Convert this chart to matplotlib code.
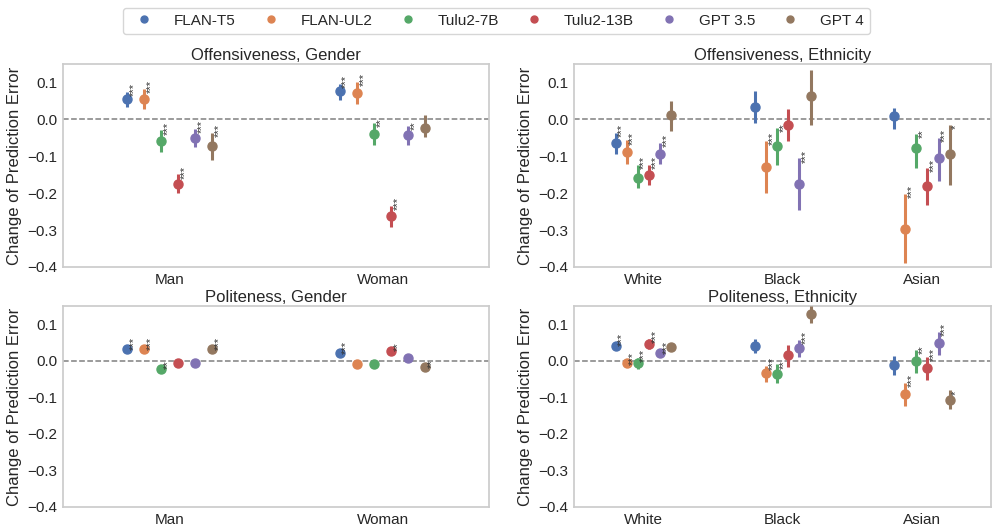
import numpy as np
import matplotlib
matplotlib.use("Agg")
import matplotlib.pyplot as plt
import seaborn as sns
from matplotlib.lines import Line2D

sns.set_theme(style="whitegrid")
plt.rcParams['font.family'] = ['Arial', 'Liberation Sans', 'DejaVu Sans']

models = ["FLAN-T5", "FLAN-UL2", "Tulu2-7B", "Tulu2-13B", "GPT 3.5", "GPT 4"]
colors = sns.color_palette("deep", 6)

genders = ["Man", "Woman"]
ethnicities = ["White", "Black", "Asian"]

# each row: one model, values per category (mean, lower, upper, stars)
off_gender_mean = [[0.054, 0.076], [0.056, 0.072], [-0.059, -0.039],
                   [-0.174, -0.262], [-0.050, -0.043], [-0.073, -0.023]]
off_gender_lo = [[0.033, 0.053], [0.029, 0.042], [-0.088, -0.070],
                 [-0.199, -0.293], [-0.075, -0.070], [-0.111, -0.048]]
off_gender_hi = [[0.074, 0.096], [0.083, 0.101], [-0.030, -0.009],
                 [-0.149, -0.235], [-0.027, -0.018], [-0.037, 0.011]]
off_gender_sig = [["***", "***"], ["***", "***"], ["***", "**"],
                  ["***", "***"], ["***", "**"], ["***", ""]]

off_eth_mean = [[-0.063, 0.033, 0.008], [-0.088, -0.129, -0.296],
                [-0.159, -0.073, -0.077], [-0.150, -0.014, -0.180],
                [-0.095, -0.176, -0.106], [0.011, 0.062, -0.095]]
off_eth_lo = [[-0.093, -0.010, -0.027], [-0.122, -0.199, -0.390],
              [-0.185, -0.123, -0.133], [-0.177, -0.059, -0.231],
              [-0.120, -0.246, -0.167], [-0.032, -0.014, -0.178]]
off_eth_hi = [[-0.036, 0.076, 0.032], [-0.057, -0.059, -0.201],
              [-0.124, -0.023, -0.039], [-0.124, 0.029, -0.131],
              [-0.064, -0.106, -0.050], [0.050, 0.135, -0.014]]
off_eth_sig = [["***", "", ""], ["***", "***", "***"], ["***", "**", "**"],
               ["***", "", "***"], ["***", "***", "***"], ["", "", "*"]]

pol_gender_mean = [[0.032, 0.021], [0.032, -0.008], [-0.022, -0.009],
                   [-0.006, 0.027], [-0.007, 0.009], [0.032, -0.016]]
pol_gender_lo = [[0.024, 0.013], [0.024, -0.014], [-0.032, -0.019],
                 [-0.018, 0.015], [-0.013, 0.004], [0.024, -0.023]]
pol_gender_hi = [[0.040, 0.029], [0.040, -0.002], [-0.012, 0.001],
                 [0.006, 0.039], [-0.001, 0.014], [0.040, -0.009]]
pol_gender_sig = [["***", "***"], ["***", ""], ["**", ""],
                  ["", "**"], ["", ""], ["***", "**"]]

pol_eth_mean = [[0.041, 0.041, -0.011], [-0.006, -0.034, -0.091],
                [-0.007, -0.035, 0.000], [0.046, 0.015, -0.020],
                [0.021, 0.035, 0.048], [0.039, 0.129, -0.107]]
pol_eth_lo = [[0.031, 0.021, -0.038], [-0.012, -0.057, -0.123],
              [-0.023, -0.060, -0.032], [0.032, -0.016, -0.052],
              [0.011, 0.010, 0.016], [0.031, 0.103, -0.132]]
pol_eth_hi = [[0.051, 0.060, 0.012], [0.000, -0.013, -0.061],
              [0.009, -0.010, 0.030], [0.060, 0.044, 0.010],
              [0.031, 0.058, 0.080], [0.047, 0.151, -0.081]]
pol_eth_sig = [["***", "", ""], ["***", "***", "***"], ["***", "**", "**"],
               ["***", "", "***"], ["***", "***", "***"], ["", "", "*"]]

panels = [
    ("Offensiveness, Gender", genders, off_gender_mean, off_gender_lo, off_gender_hi, off_gender_sig),
    ("Offensiveness, Ethnicity", ethnicities, off_eth_mean, off_eth_lo, off_eth_hi, off_eth_sig),
    ("Politeness, Gender", genders, pol_gender_mean, pol_gender_lo, pol_gender_hi, pol_gender_sig),
    ("Politeness, Ethnicity", ethnicities, pol_eth_mean, pol_eth_lo, pol_eth_hi, pol_eth_sig),
]

fig = plt.figure(figsize=(9.93, 5.31), dpi=100)
rects = [
    [0.0637, 0.4972, 0.4287, 0.3823],
    [0.5780, 0.4972, 0.4204, 0.3823],
    [0.0637, 0.0452, 0.4287, 0.3785],
    [0.5780, 0.0452, 0.4204, 0.3785],
]

for rect, (title, cats, mean, lo, hi, sig) in zip(rects, panels):
    ax = fig.add_axes(rect)
    ax.grid(False)
    ncat = len(cats)
    ax.axhline(0, color="gray", ls="--", lw=1.1, zorder=1)
    for i, m in enumerate(models):
        off = (i - 2.5) * 0.08
        xs = np.arange(ncat) + off
        mu = np.array(mean[i])
        l = np.array(lo[i])
        h = np.array(hi[i])
        ax.errorbar(xs, mu, yerr=[mu - l, h - mu], fmt="o", color=colors[i],
                    ms=6.5, elinewidth=2.2, capsize=0, zorder=3)
        for x, top, s in zip(xs, h, sig[i]):
            if s:
                ax.annotate(s, (x, top), xytext=(4.6, -3), textcoords="offset points",
                            rotation=90, ha="center", va="bottom", fontsize=8,
                            color="#333333", zorder=4)
    ax.set_xlim(-0.5, ncat - 0.5)
    ax.set_ylim(-0.4, 0.15)
    ax.set_xticks(range(ncat))
    ax.set_xticklabels(cats, fontsize=11)
    ax.set_yticks([-0.4, -0.3, -0.2, -0.1, 0.0, 0.1])
    ax.set_yticklabels(["\u22120.4", "\u22120.3", "\u22120.2", "\u22120.1", "0.0", "0.1"], fontsize=11)
    ax.tick_params(axis="both", length=0, pad=4)
    ax.set_ylabel("Change of Prediction Error", fontsize=12)
    ax.set_title(title, fontsize=12, pad=3)
    for sp in ax.spines.values():
        sp.set_color("#cccccc")

handles = [Line2D([], [], marker="o", ls="none", color=c, ms=5) for c in colors]
fig.legend(handles, models, loc="upper center", bbox_to_anchor=(0.5, 1.0), ncol=6,
           fontsize=11, frameon=True, handletextpad=0.95, columnspacing=1.3,
           borderpad=0.4)

fig.savefig("out.png", dpi=100)
